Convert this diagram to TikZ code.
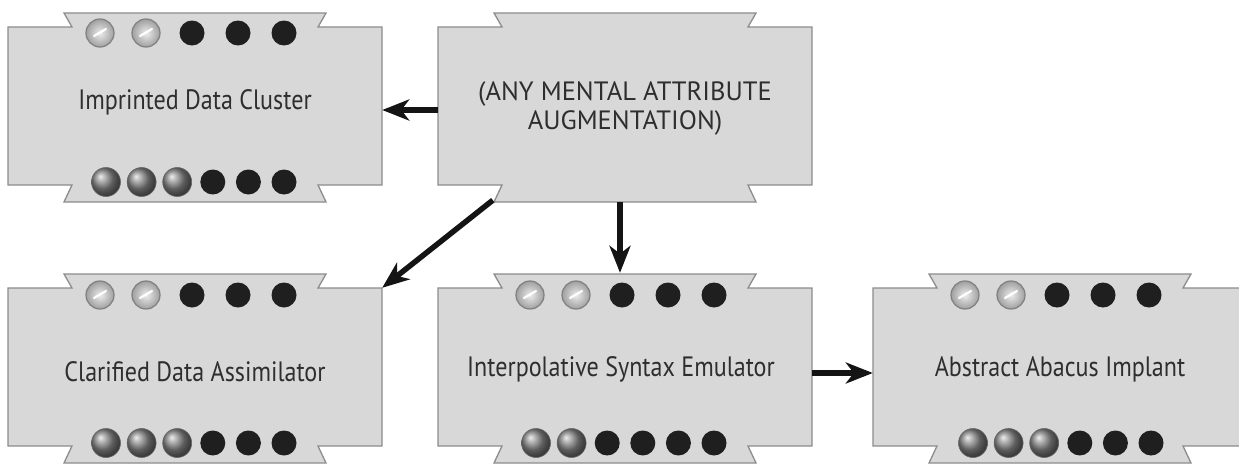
\documentclass[tikz,border=0pt]{standalone}
\usepackage{fontspec}
\newfontfamily\labfont[FakeStretch=0.86]{PT Sans}
\newfontfamily\capfont{PT Sans}
\usetikzlibrary{arrows.meta}
\definecolor{boxfill}{HTML}{D8D8D8}
\definecolor{boxline}{HTML}{8C8C8C}
\definecolor{txt}{HTML}{2E2E2E}
\tikzset{
  ribbon/.style={fill=boxfill, draw=boxline, line width=1.3pt, line join=miter},
  anchorbox/.style={minimum width=374pt, minimum height=158pt, inner sep=0pt, draw=none},
  lab/.style={font=\labfont\fontsize{28}{32}\selectfont, text=txt, align=center},
  caplab/.style={font=\capfont\fontsize{26.5}{29}\selectfont, text=txt, align=center},
  silverdot/.style={circle, inner sep=0pt, minimum size=28pt, shading=radial, inner color=gray!15, outer color=gray!75, draw=black!50, line width=1.2pt},
  greydot/.style={circle, inner sep=0pt, minimum size=29pt, shading=ball, ball color=gray!95, draw=gray!80!black, line width=0.6pt},
  blackdot/.style={circle, inner sep=0pt, minimum size=25pt, fill=black!88},
  conn/.style={line width=5.5pt, draw=black!92, -{Stealth[length=27pt,width=21pt,inset=8pt]}}
}
\newcommand\drawribbon[2]{%
  \draw[ribbon] (#1,#2) -- ++(64,0) -- ++(-8,-14) -- ++(262,0) -- ++(-8,14)
    -- ++(64,0) -- ++(0,158) -- ++(-64,0) -- ++(8,17) -- ++(-262,0)
    -- ++(8,-17) -- ++(-64,0) -- cycle;}
\newcommand\topdots[2]{%
  \foreach \k in {0,1}{\node[silverdot] at (#1-95+46*\k,#2) {};
    \draw[white, line width=2.2pt, line cap=round] (#1-95+46*\k-6,#2+3) -- (#1-95+46*\k+6,#2-4);}
  \foreach \k in {2,3,4}{\node[blackdot] at (#1-95+46*\k,#2) {};}}
\newcommand\botdots[3]{%
  \foreach \k in {0,...,5}{%
    \ifnum\k<#3 \node[greydot] at (#1-89+35.6*\k,#2) {};
    \else \node[blackdot] at (#1-89+35.6*\k,#2) {};\fi}}
\begin{document}
\begin{tikzpicture}[x=1pt,y=-1pt]
\useasboundingbox (0,0) rectangle (1239,463);
\fill[white] (0,0) rectangle (1239,463);
% ribbons
\drawribbon{8}{27}
\drawribbon{438}{27}
\drawribbon{8}{288}
\drawribbon{438}{288}
\drawribbon{873}{288}
% anchor boxes
\node[anchorbox] (imp) at (195,106) {};
\node[anchorbox] (any) at (625,106) {};
\node[anchorbox] (clar) at (195,367) {};
\node[anchorbox] (interp) at (625,367) {};
\node[anchorbox] (abs) at (1060,367) {};
% labels
\node[lab] (impl) at (195,102) {Imprinted Data Cluster};
\node[caplab] (anyl) at (625,108) {(ANY MENTAL ATTRIBUTE\\AUGMENTATION)};
\node[lab] (clarl) at (195,372) {Clarified Data Assimilator};
\node[lab] (interpl) at (621,369) {Interpolative Syntax Emulator};
\node[lab] (absl) at (1060,369) {Abstract Abacus Implant};
% dots
\topdots{195}{33}\botdots{195}{182}{3}
\topdots{195}{295}\botdots{195}{443}{3}
\topdots{625}{295}\botdots{625}{443}{2}
\topdots{1060}{295}\botdots{1062}{443}{3}
% connectors
\draw[conn] ([yshift=-4pt]any.west) -- ([yshift=-4pt]imp.east);
\draw[conn] ([xshift=55pt,yshift=-15pt]any.south west) -- (clar.north east);
\draw[conn] ([xshift=-5pt,yshift=-17pt]any.south) -- ([xshift=-5pt,yshift=15pt]interp.north);
\draw[conn] ([yshift=-6pt]interp.east) -- ([yshift=-6pt]abs.west);
\end{tikzpicture}
\end{document}
